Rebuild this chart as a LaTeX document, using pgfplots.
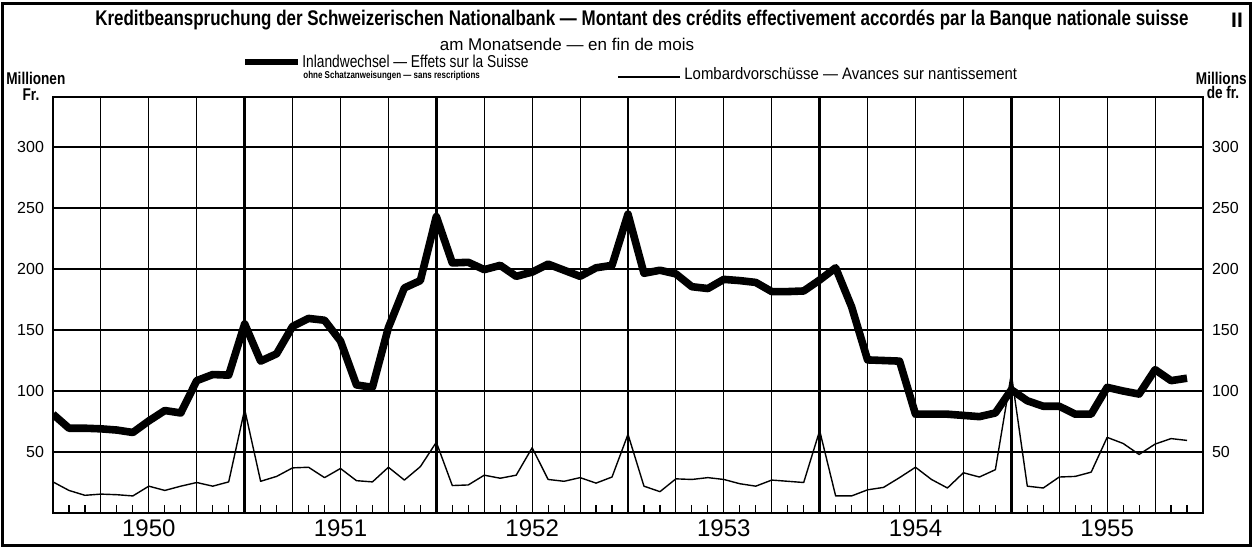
\documentclass[border=0pt]{standalone}
\usepackage{pgfplots}
\pgfplotsset{compat=1.18}
\usepackage{fontspec}
\setmainfont{Liberation Sans}
\newfontfamily\condfont{Liberation Sans}[FakeStretch=0.8]
\newfontfamily\semifont{Liberation Sans}[FakeStretch=0.9]

\pgfplotstableread{
m v
0 81
1 69.5
2 69.5
3 69
4 68
5 66
6 75.5
7 84
8 82
9 108.5
10 113.5
11 113
12 155
13 124.5
14 130.5
15 153
16 159.5
17 158
18 141
19 105
20 103
21 152
22 184.5
23 190.5
24 243
25 205
26 205.5
27 199.5
28 203
29 194
30 197.5
31 204
32 199
33 194
34 201
35 203
36 245
37 196.5
38 199
39 196
40 185.5
41 184
42 191.5
43 190.5
44 189
45 181.5
46 181.5
47 182
48 191
49 201
50 169
51 125.5
52 125
53 124.5
54 81
55 81
56 81
57 80
58 79
59 82
60 101
61 92
62 87.5
63 87.5
64 81
65 81
66 103
67 100
68 97.5
69 117.5
70 108.5
71 110.5
}\inland

\pgfplotstableread{
m v
0 25.5
1 18.5
2 14.5
3 15.5
4 15
5 14
6 22
7 18.5
8 22
9 25
10 22
11 25.5
12 85
13 26
14 30
15 37
16 37.5
17 29
18 36.5
19 26.5
20 25.5
21 37.5
22 27
23 38
24 58
25 22.5
26 23
27 31
28 28.5
29 31
30 53.5
31 27.5
32 26
33 29
34 24.5
35 29.5
36 64.5
37 22
38 17.5
39 28
40 27.5
41 29
42 27.5
43 24
44 22
45 27
46 26
47 25
48 67.5
49 14
50 14
51 19
52 21
53 29
54 37.5
55 27.5
56 20.5
57 33
58 29.5
59 35.5
60 114
61 22
62 20.5
63 29.5
64 30
65 33.5
66 62
67 57
68 48
69 56.5
70 61
71 59.5
}\lombard

\begin{document}
\begin{tikzpicture}[x=1pt,y=1pt]
\useasboundingbox (-26.5,-17.5) rectangle (602,256.5);
\draw[line width=1.5pt] (-25,-16) rectangle (598.5,255);

\begin{axis}[
  at={(0pt,0pt)}, anchor=south west,
  scale only axis, width=575pt, height=208pt,
  xmin=0, xmax=72, ymin=0, ymax=341,
  axis line style={line width=1.1pt},
  xtick={0,3,...,72}, xticklabels={},
  minor x tick num=2,
  ytick={50,100,...,300},
  xmajorgrids, ymajorgrids,
  grid style={line width=0.55pt, black},
  tick style={black, line width=0.6pt},
  xtick pos=left, ytick pos=left,
  tick align=inside,
  major tick length=0pt, minor tick length=4pt,
  extra x ticks={12,24,36,48,60},
  extra x tick labels={},
  extra x tick style={grid style={line width=1.2pt, black}, major tick length=0pt},
  /pgf/number format/assume math mode=true,
  yticklabel style={font=\fontsize{8}{8}\selectfont, xshift=-1pt},
]
\addplot[black, line width=0.7pt, line join=round] table[x=m, y=v] {\lombard};
\addplot[black, line width=3.8pt, line join=round] table[x=m, y=v] {\inland};
\end{axis}

\begin{axis}[
  at={(0pt,0pt)}, anchor=south west,
  scale only axis, width=575pt, height=208pt,
  xmin=0, xmax=72, ymin=0, ymax=341,
  axis line style={draw=none},
  xtick={6,18,30,42,54,66},
  xticklabels={1950,1951,1952,1953,1954,1955},
  ytick={50,100,...,300},
  xtick pos=left, ytick pos=right, yticklabel pos=right,
  major tick length=0pt,
  /pgf/number format/assume math mode=true,
  yticklabel style={font=\fontsize{8}{8}\selectfont, xshift=1pt},
  xticklabel style={font=\fontsize{12}{12}\selectfont, yshift=0pt},
]
\end{axis}

% texts
\node[font=\condfont\bfseries\fontsize{10.6}{12}\selectfont] at (294.5,246.5)
  {Kreditbeanspruchung der Schweizerischen Nationalbank — Montant des crédits effectivement accordés par la Banque nationale suisse};
\node[font=\bfseries\fontsize{10.5}{12}\selectfont] at (592,246.5) {II};
\node[font=\fontsize{8.5}{9}\selectfont] at (257,234.5) {am Monatsende — en fin de mois};

\draw[line width=3.2pt] (96,225.5) -- (122.5,225.5);
\node[anchor=west, inner sep=1pt, font=\condfont\fontsize{8.6}{9}\selectfont] at (123.5,226) {Inlandwechsel — Effets sur la Suisse};
\node[anchor=west, inner sep=1pt, font=\condfont\bfseries\fontsize{5}{6}\selectfont] at (124,218.5) {ohne Schatzanweisungen — sans rescriptions};
\draw[line width=0.7pt] (282.5,218) -- (313.5,218);
\node[anchor=west, inner sep=1pt, font=\semifont\fontsize{8.3}{9}\selectfont] at (314.5,219.5) {Lombardvorschüsse — Avances sur nantissement};

\node[anchor=west, inner sep=1pt, font=\condfont\bfseries\fontsize{8.5}{9}\selectfont] at (-24.5,217.5) {Millionen};
\node[font=\condfont\bfseries\fontsize{8.5}{9}\selectfont] at (-11,209) {Fr.};
\node[anchor=east, inner sep=1pt, font=\condfont\bfseries\fontsize{8.5}{9}\selectfont] at (598,217.5) {Millions};
\node[font=\condfont\bfseries\fontsize{8.5}{9}\selectfont] at (585,210.5) {de fr.};
\end{tikzpicture}
\end{document}
